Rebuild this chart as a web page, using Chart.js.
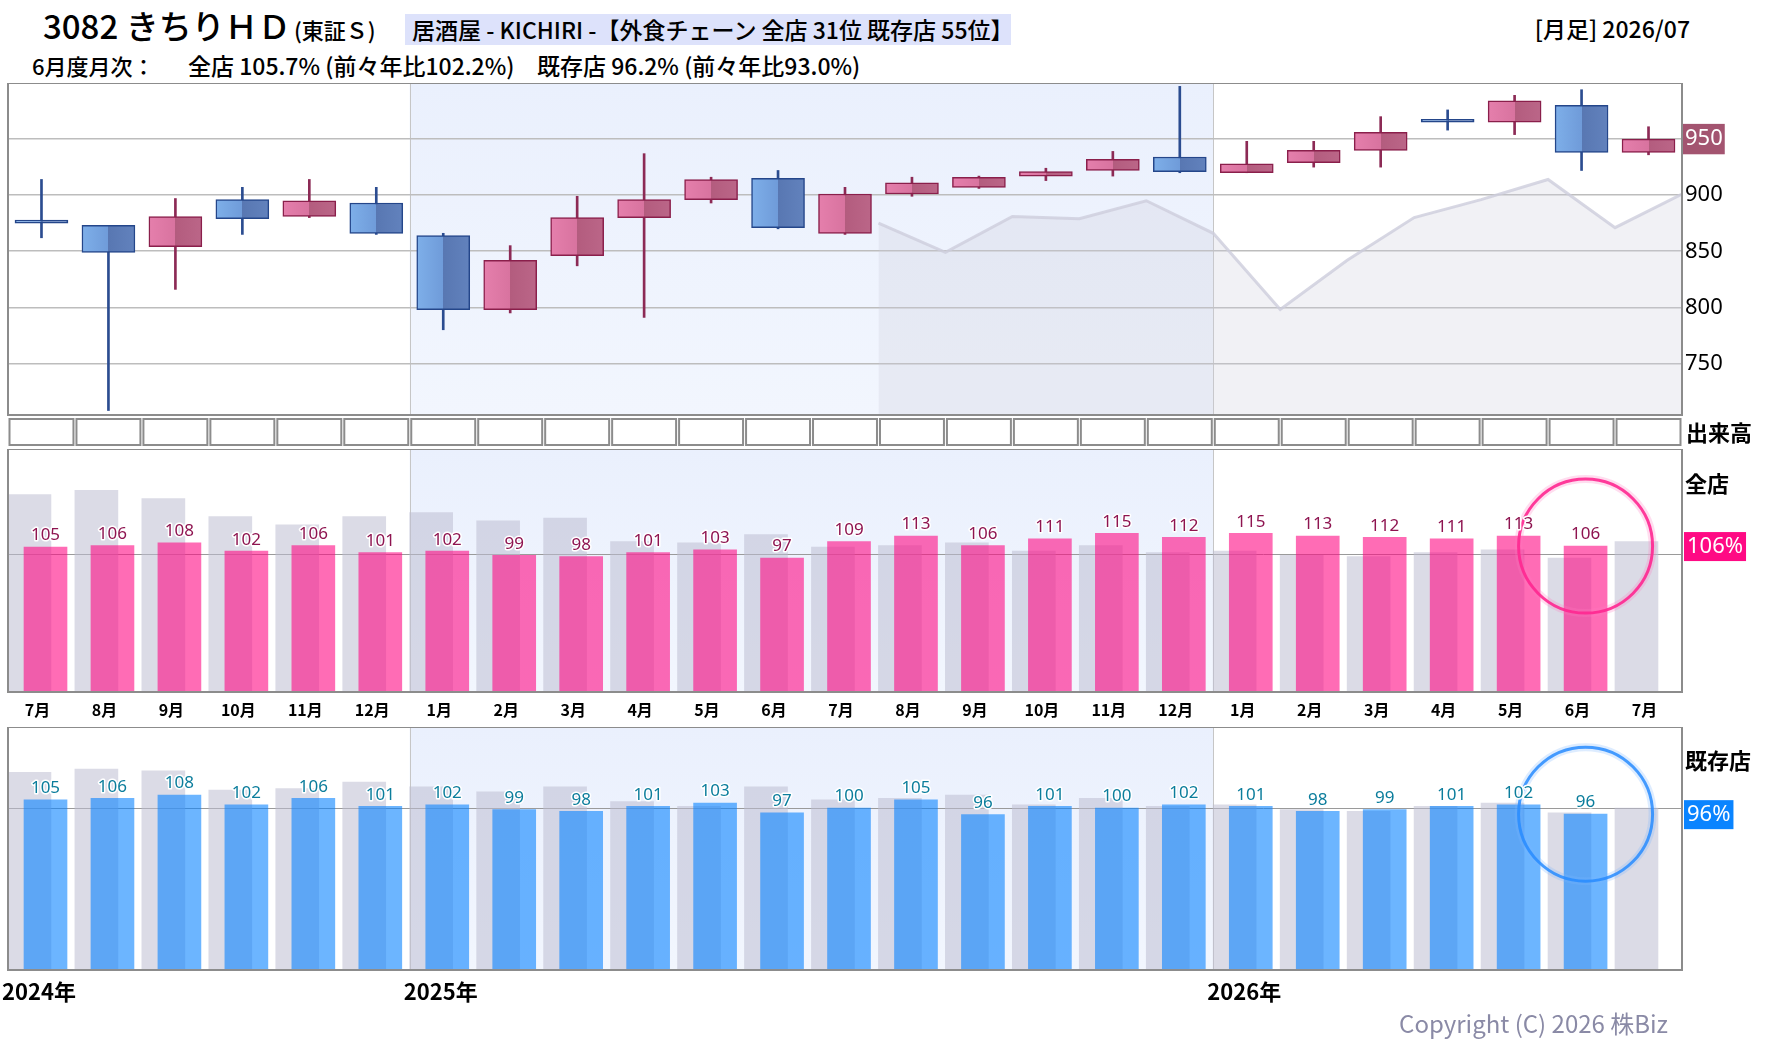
<!DOCTYPE html>
<html lang="ja">
<head>
<meta charset="UTF-8">
<title>3082 きちりＨＤ 月足</title>
<script src="https://cdn.jsdelivr.net/npm/chart.js@4.4.1/dist/chart.umd.min.js"></script>
<style>
  body { margin: 0; background: #fff; font-family: 'Noto Sans CJK JP', 'Noto Sans', sans-serif; color: #000; }
  #page { position: relative; width: 1780px; height: 1054px; overflow: hidden; }
  .t { position: absolute; white-space: nowrap; }
  .panel { position: absolute; left: 0; width: 1780px; }
</style>
</head>
<body>
<div id="page">
  <div class="t" style="left:43px;top:5px;font-size:33px;line-height:40px;font-weight:500;">3082 きちりＨＤ</div>
  <div class="t" style="left:294px;top:14px;font-size:22px;line-height:30px;font-weight:500;">(東証Ｓ)</div>
  <div class="t" style="left:405px;top:14px;width:606px;height:31px;line-height:31px;font-size:23px;background:#dde2fb;padding-left:7px;box-sizing:border-box;font-weight:500;">居酒屋 - KICHIRI -【外食チェーン 全店 31位 既存店 55位】</div>
  <div class="t" style="right:90px;top:13px;font-size:23px;line-height:30px;font-weight:500;">[月足] 2026/07</div>

  <div class="t" style="left:32px;top:50px;font-size:22px;line-height:30px;font-weight:500;">6月度月次：</div>
  <div class="t" style="left:188px;top:50px;font-size:23px;line-height:30px;font-weight:500;">全店 105.7% (前々年比102.2%)</div>
  <div class="t" style="left:537px;top:50px;font-size:23px;line-height:30px;font-weight:500;">既存店 96.2% (前々年比93.0%)</div>

  <div class="panel" style="top:83px;height:364px;"><canvas id="priceChart"></canvas></div>
  <div class="panel" style="top:449px;height:276px;"><canvas id="allChart"></canvas></div>
  <div class="panel" style="top:727px;height:283px;"><canvas id="existChart"></canvas></div>

  <div class="t" style="left:1686px;top:416px;font-size:22px;line-height:30px;font-weight:bold;">出来高</div>
  <div class="t" style="left:1685px;top:467px;font-size:22px;line-height:30px;font-weight:bold;">全店</div>
  <div class="t" style="left:1685px;top:744px;font-size:22px;line-height:30px;font-weight:bold;">既存店</div>

  <div class="t" style="right:112px;top:1008px;font-size:24px;line-height:30px;color:#8a8aa6;">Copyright (C) 2026 株Biz</div>
</div>

<script>
    // 月足 2024/07 - 2026/07
    var months = ['7月', '8月', '9月', '10月', '11月', '12月',
        '1月', '2月', '3月', '4月', '5月', '6月', '7月', '8月', '9月', '10月', '11月', '12月',
        '1月', '2月', '3月', '4月', '5月', '6月', '7月'];
    var yearLabels = ['2024年', '2025年', '2026年'];
    var yearStarts = [0, 6, 18];

    var candleOpen  = [876, 873, 854, 896, 881, 893, 864, 798, 846, 880, 896, 915, 866, 901, 907, 917, 922, 934, 920, 929, 940, 965, 965, 980, 938];
    var candleHigh  = [914, 873, 897, 907, 914, 907, 866, 855, 899, 937, 916, 922, 907, 916, 917, 924, 939, 997, 948, 948, 970, 976, 989, 994, 961];
    var candleLow   = [862, 708, 816, 865, 880, 865, 780, 795, 837, 791, 893, 870, 865, 899, 906, 913, 917, 920, 920, 925, 925, 958, 954, 922, 936];
    var candleClose = [875, 849, 881, 879, 895, 866, 798, 842, 880, 896, 914, 871, 901, 911, 916, 921, 932, 921, 928, 940, 956, 965, 984, 938, 950];
    var priceTicks = [750, 800, 850, 900, 950];

    // 月次 前年比 (%)
    var allStore     = [105, 106, 108, 102, 106, 101, 102, 99, 98, 101, 103, 97, 109, 113, 106, 111, 115, 112, 115, 113, 112, 111, 113, 105.7, null];
    var allStorePrev = [143, 146, 140, 127, 121, 127, 130, 124, 126, 109, 108, 114, 105, 106, 108, 102, 106, 101, 102, 99, 98, 101, 103, 97, 109];
    var existStore     = [105, 106, 108, 102, 106, 101, 102, 99, 98, 101, 103, 97, 100, 105, 96, 101, 100, 102, 101, 98, 99, 101, 102, 96.2, null];
    var existStorePrev = [122, 124, 123, 111, 112, 116, 113, 110, 113, 104, 101, 113, 105, 106, 108, 102, 106, 101, 102, 99, 98, 101, 103, 97, 100];

    Chart.defaults.font.family = "'Noto Sans CJK JP', 'Noto Sans', sans-serif";
    Chart.defaults.animation = false;
    Chart.defaults.plugins.legend.display = false;
    Chart.defaults.plugins.tooltip.enabled = false;

    var slotMin = -0.5, slotMax = months.length - 0.5;
    var lastClose = candleClose[candleClose.length - 1];

    function isUp(i) { return candleClose[i] > candleOpen[i]; }

    // 背景(2025年の帯)・枠・基準線
    var panelPlugin = {
        id: 'panel',
        beforeDraw: function (chart, args, opts) {
            var ctx = chart.ctx, a = chart.chartArea, x = chart.scales.x;
            var x0 = x.getPixelForValue(yearStarts[1] - 0.5);
            var x1 = x.getPixelForValue(yearStarts[2] - 0.5);
            ctx.save();
            var g = ctx.createLinearGradient(0, a.top, 0, a.bottom);
            g.addColorStop(0, '#eaf0fd');
            g.addColorStop(1, '#f2f6fe');
            ctx.fillStyle = g;
            ctx.fillRect(x0, a.top, x1 - x0, a.bottom - a.top);
            ctx.strokeStyle = '#c6c6c6';
            ctx.lineWidth = 1;
            [x0, x1].forEach(function (px) {
                ctx.beginPath();
                ctx.moveTo(Math.round(px) + 0.5, a.top);
                ctx.lineTo(Math.round(px) + 0.5, a.bottom);
                ctx.stroke();
            });
            if (opts.refLine != null) {
                var y = Math.round(chart.scales.y.getPixelForValue(opts.refLine)) + 0.5;
                ctx.strokeStyle = '#9a9a9a';
                ctx.beginPath();
                ctx.moveTo(a.left, y);
                ctx.lineTo(a.right, y);
                ctx.stroke();
            }
            ctx.restore();
        },
        afterDraw: function (chart, args, opts) {
            var ctx = chart.ctx, a = chart.chartArea, x = chart.scales.x;
            ctx.save();
            ctx.strokeStyle = '#8c8c8c';
            ctx.lineWidth = 2;
            ctx.strokeRect(a.left, a.top, a.right - a.left, a.bottom - a.top);
            if (opts.volumeRow) {
                // 出来高欄(空)
                for (var i = 0; i < months.length; i++) {
                    var l = x.getPixelForValue(i - 0.5) + 1.5;
                    var r = x.getPixelForValue(i + 0.5) - 1.5;
                    ctx.fillStyle = '#fff';
                    ctx.fillRect(l, a.bottom + 4, r - l, 26);
                    ctx.strokeRect(l, a.bottom + 4, r - l, 26);
                }
            }
            ctx.restore();
        }
    };

    // 数値ラベル・最新月の丸・右の％ボックス
    var valuePlugin = {
        id: 'values',
        afterDatasetsDraw: function (chart, args, opts) {
            var ctx = chart.ctx;
            var meta = chart.getDatasetMeta(1);
            var values = opts.values;
            var last = -1;
            values.forEach(function (v, i) { if (v != null) last = i; });

            ctx.save();
            var el = meta.data[last];
            ctx.beginPath();
            ctx.arc(el.x, el.y, 67, 0, Math.PI * 2);
            ctx.strokeStyle = opts.glow;
            ctx.lineWidth = 8;
            ctx.stroke();
            ctx.strokeStyle = opts.ring;
            ctx.lineWidth = 3;
            ctx.stroke();

            ctx.font = '17px "Noto Sans", sans-serif';
            ctx.textAlign = 'center';
            ctx.textBaseline = 'bottom';
            ctx.lineJoin = 'round';
            values.forEach(function (v, i) {
                if (v == null) return;
                var e = meta.data[i];
                var txt = String(Math.round(v));
                ctx.strokeStyle = '#fff';
                ctx.lineWidth = 3;
                ctx.strokeText(txt, e.x, e.y - 3);
                ctx.fillStyle = opts.labelColor;
                ctx.fillText(txt, e.x, e.y - 3);
            });

            var a = chart.chartArea;
            var y = chart.scales.y.getPixelForValue(values[last]);
            var label = Math.round(values[last]) + '%';
            ctx.font = '22px "Noto Sans", sans-serif';
            var w = ctx.measureText(label).width + 6;
            ctx.fillStyle = opts.boxColor;
            ctx.fillRect(a.right + 2, y - 14, w, 29);
            ctx.fillStyle = '#fff';
            ctx.textAlign = 'left';
            ctx.textBaseline = 'middle';
            ctx.fillText(label, a.right + 5, y + 1);
            ctx.restore();
        }
    };

    var bodyWidth = 53;
    function bodyFill(c) {
        if (c.type !== 'data') return '#d06a94';
        var i = c.dataIndex, up = isUp(i), chart = c.chart, xs = chart.scales.x;
        if (!chart.chartArea || !xs) return up ? '#d06a94' : '#6a8fcb';
        var cx = xs.getPixelForValue(i), h = bodyWidth / 2;
        var g = chart.ctx.createLinearGradient(cx - h, 0, cx + h, 0);
        if (up) {
            g.addColorStop(0, '#e57fac'); g.addColorStop(0.5, '#d8739f');
            g.addColorStop(0.5, '#b35c7e'); g.addColorStop(1, '#bb6688');
        } else {
            g.addColorStop(0, '#7eafe9'); g.addColorStop(0.5, '#6f9bd9');
            g.addColorStop(0.5, '#5877b2'); g.addColorStop(1, '#6282bd');
        }
        return g;
    }

    new Chart(document.getElementById('priceChart'), {
        type: 'bar',
        data: {
            datasets: [
                {
                    type: 'bar',
                    data: candleOpen.map(function (o, i) { return { x: i, y: [o, candleClose[i]] }; }),
                    backgroundColor: bodyFill,
                    borderColor: function (c) { return isUp(c.dataIndex) ? '#8a1f4b' : '#24468a'; },
                    borderWidth: 1.5,
                    borderSkipped: false,
                    barThickness: bodyWidth,
                    minBarLength: 3,
                    grouped: false,
                    order: 1
                },
                {
                    type: 'bar',
                    data: candleLow.map(function (l, i) { return { x: i, y: [l, candleHigh[i]] }; }),
                    backgroundColor: function (c) { return isUp(c.dataIndex) ? '#8c2a55' : '#2b4c90'; },
                    barThickness: 2,
                    grouped: false,
                    order: 2
                },
                {
                    // 1年前の終値
                    type: 'line',
                    data: candleClose.slice(0, 13).map(function (c, j) { return { x: j + 12.5, y: c }; }),
                    borderColor: 'rgba(205,205,220,0.8)',
                    borderWidth: 3,
                    backgroundColor: 'rgba(205,205,220,0.28)',
                    fill: 'start',
                    pointRadius: 0,
                    tension: 0,
                    order: 3
                }
            ]
        },
        options: {
            responsive: true,
            maintainAspectRatio: false,
            devicePixelRatio: 1,
            layout: { padding: { left: 8, right: 0, top: 0, bottom: 32 } },
            scales: {
                x: { type: 'linear', min: slotMin, max: slotMax, offset: false, display: false },
                y: {
                    position: 'right',
                    min: 704,
                    max: 1000,
                    afterBuildTicks: function (s) { s.ticks = priceTicks.map(function (v) { return { value: v }; }); },
                    afterFit: function (s) { s.width = 98; s.paddingTop = 0; s.paddingBottom = 0; },
                    grid: { color: '#bdbdbd', lineWidth: 1.5, drawTicks: false },
                    border: { display: false },
                    ticks: {
                        padding: 3,
                        font: { size: 22, family: "'Noto Sans', sans-serif" },
                        color: function (c) { return c.tick && c.tick.value === lastClose ? '#fff' : '#000'; },
                        showLabelBackdrop: function (c) { return !!(c.tick && c.tick.value === lastClose); },
                        backdropColor: '#a35470',
                        backdropPadding: { left: 2, right: 2, top: 2, bottom: 2 }
                    }
                }
            },
            plugins: { panel: { volumeRow: true } }
        },
        plugins: [panelPlugin]
    });

    function barPanel(id, values, prevValues, yMax, color, labelColor, ring, glow, boxColor, xAxis) {
        return new Chart(document.getElementById(id), {
            type: 'bar',
            data: {
                datasets: [
                    {
                        data: prevValues.map(function (v, i) { return { x: i - 0.18, y: v }; }),
                        backgroundColor: 'rgba(190,190,210,0.55)',
                        barThickness: 43,
                        grouped: false,
                        order: 2
                    },
                    {
                        data: values.map(function (v, i) { return { x: i + 0.06, y: v }; }),
                        backgroundColor: color,
                        barThickness: 43,
                        grouped: false,
                        order: 1
                    }
                ]
            },
            options: {
                responsive: true,
                maintainAspectRatio: false,
                devicePixelRatio: 1,
                layout: { padding: { left: 8, right: 98, top: 0, bottom: 0 } },
                scales: {
                    x: xAxis,
                    y: { display: false, min: 0, max: yMax }
                },
                plugins: {
                    panel: { refLine: 100 },
                    values: { values: values, labelColor: labelColor, ring: ring, glow: glow, boxColor: boxColor }
                }
            },
            plugins: [panelPlugin, valuePlugin]
        });
    }

    barPanel('allChart', allStore, allStorePrev, 176,
        'rgba(255,10,132,0.6)', '#8e1450', 'rgba(255,40,145,0.9)', 'rgba(255,120,190,0.25)', '#ff0a84',
        {
            type: 'linear', min: slotMin, max: slotMax, offset: false,
            grid: { display: false }, border: { display: false },
            afterBuildTicks: function (s) { s.ticks = months.map(function (m, i) { return { value: i }; }); },
            afterFit: function (s) { s.height = 33; s.paddingLeft = 0; s.paddingRight = 0; },
            ticks: {
                autoSkip: false, maxRotation: 0, minRotation: 0, padding: 0, labelOffset: -4,
                color: '#000', font: { size: 16, weight: 'bold' },
                callback: function (v, i) { return months[i]; }
            }
        });

    barPanel('existChart', existStore, existStorePrev, 150,
        'rgba(10,132,255,0.6)', '#0b7d9c', 'rgba(40,140,255,0.85)', 'rgba(120,180,255,0.25)', '#0a84ff',
        {
            type: 'linear', min: slotMin, max: slotMax, offset: false,
            grid: { display: false }, border: { display: false },
            afterBuildTicks: function (s) { s.ticks = yearStarts.map(function (k) { return { value: k - 0.5 }; }); },
            afterFit: function (s) { s.height = 40; s.paddingLeft = 0; s.paddingRight = 0; },
            ticks: {
                autoSkip: false, maxRotation: 0, minRotation: 0, padding: 0, align: 'start', labelOffset: -6,
                color: '#000', font: { size: 22, weight: 'bold' },
                callback: function (v, i) { return yearLabels[i]; }
            }
        });
</script>
</body>
</html>
